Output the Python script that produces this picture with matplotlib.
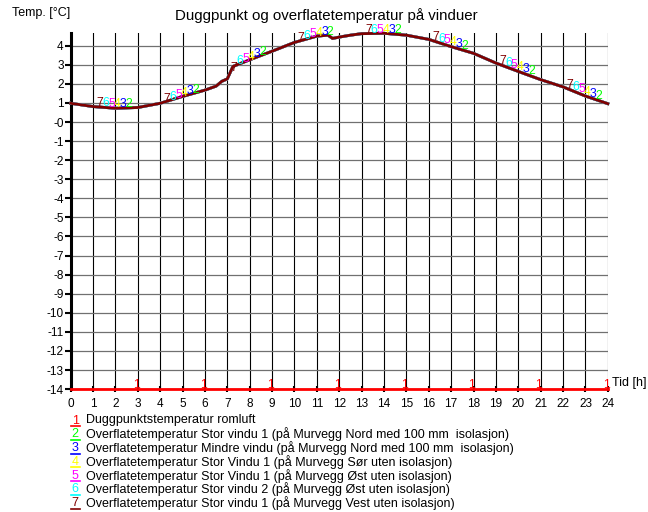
import matplotlib
matplotlib.use("Agg")
import matplotlib.pyplot as plt
import numpy as np

plt.rcParams['font.family'] = ['Liberation Sans', 'DejaVu Sans']

# hours and surface temperature (all window curves overlap)
hours = [0, 1, 2, 3, 4, 5, 6, 6.5, 6.75, 7, 7.25, 8, 9, 10, 11, 11.5, 11.7,
         12, 12.5, 13, 14, 15, 16, 17, 18, 19, 20, 21, 22, 23, 24]
surface = [0.98, 0.81, 0.72, 0.76, 0.98, 1.34, 1.67, 1.88, 2.13, 2.26, 2.91,
           3.26, 3.71, 4.17, 4.50, 4.55, 4.38, 4.45, 4.55, 4.63, 4.65, 4.55,
           4.33, 3.95, 3.60, 3.09, 2.65, 2.22, 1.84, 1.36, 0.96]
dewpoint = [-14.0] * len(hours)

series_names = [
    "Duggpunktstemperatur romluft",
    "Overflatetemperatur Stor vindu 1 (på Murvegg Nord med 100 mm  isolasjon)",
    "Overflatetemperatur Mindre vindu (på Murvegg Nord med 100 mm  isolasjon)",
    "Overflatetemperatur Stor Vindu 1 (på Murvegg Sør uten isolasjon)",
    "Overflatetemperatur Stor Vindu 1 (på Murvegg Øst uten isolasjon)",
    "Overflatetemperatur Stor vindu 2 (på Murvegg Øst uten isolasjon)",
    "Overflatetemperatur Stor vindu 1 (på Murvegg Vest uten isolasjon)",
]
series_values = [dewpoint, surface, surface, surface, surface, surface, surface]
colors = ['#ff0000', '#00ff00', '#0000ff', '#ffff00', '#ff00ff', '#00ffff', '#800000']

y_ticks = list(range(4, -15, -1))
y_ticklabels = [str(v) if v != 0 else '-0' for v in y_ticks]

fig = plt.figure(figsize=(6.48, 5.12), dpi=100)
ax = fig.add_axes([0.109, 0.240, 0.829, 0.695])

ax.set_xlim(0, 24)
ax.set_ylim(-14, 4.65)

for x in range(0, 25):
    ax.axvline(x, color='black', lw=0.8, zorder=1)
for y in y_ticks:
    ax.axhline(y, color='#707070', lw=0.9, zorder=1)

hx = np.array(hours, dtype=float)
for vals, c in zip(series_values, colors):
    ax.plot(hx, vals, color=c, lw=2, zorder=3, clip_on=False)

# numbered labels along the curves
for i, (vals, c) in enumerate(zip(series_values, colors)):
    num = i + 1
    for k in range(8):
        if num == 1:
            lx = 2.77 + 3 * k
        else:
            lx = 1.15 + (7 - num) * 0.26 + 3 * k
        ly = np.interp(lx, hx, vals)
        ax.text(lx, ly + 0.04, str(num), color=c, fontsize=8.8,
                ha='left', va='baseline', zorder=4)

for s in ['top', 'right', 'bottom']:
    ax.spines[s].set_visible(False)
ax.spines['left'].set_linewidth(2.2)

ax.set_xticks(range(0, 25))
ax.set_yticks(y_ticks)
ax.set_yticklabels(y_ticklabels)
ax.tick_params(axis='y', direction='out', length=4, width=1.5, labelsize=8.5, pad=1)
ax.tick_params(axis='x', direction='inout', length=5, width=1.5, labelsize=8.5, pad=4)

fig.text(0.0185, 0.974, "Temp. [°C]", fontsize=9, ha='left', va='center')
fig.text(0.503, 0.970, "Duggpunkt og overflatetemperatur på vinduer",
         fontsize=10.8, ha='center', va='center')
ax.text(24.2, -14, "Tid [h]", fontsize=9, ha='left', va='bottom')

# legend below the plot
for i, (name, c) in enumerate(zip(series_names, colors)):
    ypix = 420.5 + i * 13.8
    yf = 1 - ypix / 512
    fig.text(0.1106, yf, str(i + 1), color=c, fontsize=9, ha='left', va='center')
    fig.add_artist(plt.Line2D([0.1096, 0.1235], [yf - 0.0108, yf - 0.0108],
                              color=c, lw=1.2))
    fig.text(0.1327, yf, name, fontsize=9, ha='left', va='center')

fig.savefig("out.png", dpi=100)
